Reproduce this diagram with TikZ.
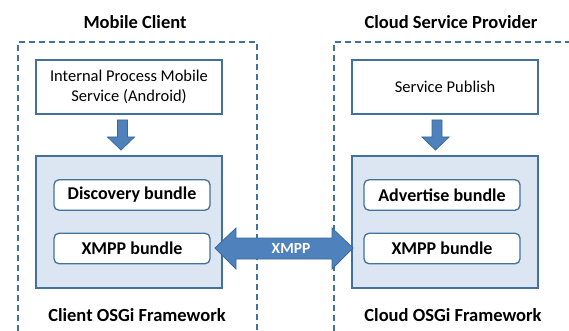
\documentclass[tikz,border=0pt]{standalone}
\usepackage{fontspec}
\setmainfont{Carlito}
\begin{document}
\begin{tikzpicture}[x=1pt,y=-1pt,
  every node/.style={inner sep=0pt, outer sep=0pt},
  region/.style={draw=frameblue, line width=1.4pt, dash pattern=on 6pt off 4pt},
  title/.style={font=\fontsize{18.5}{22}\selectfont\bfseries},
  svcbox/.style={draw=boxblue, line width=1.3pt, fill=white, minimum width=186pt, minimum height=54pt, align=center, font=\fontsize{16.5}{20}\selectfont},
  fwbox/.style={draw=boxblue, line width=1.3pt, fill=fwfill, minimum width=186pt, minimum height=132pt},
  bundle/.style={draw=boxblue, line width=1.3pt, fill=white, rounded corners=5pt, minimum width=156pt, minimum height=30.5pt, font=\fontsize{18}{22}\selectfont\bfseries},
  bigarrow/.style={fill=arrowfill, draw=arrowline, line width=0.8pt, line join=miter}
]
\definecolor{frameblue}{HTML}{41719C}
\definecolor{boxblue}{HTML}{41719C}
\definecolor{fwfill}{HTML}{DCE6F2}
\definecolor{arrowfill}{HTML}{4F81BD}
\definecolor{arrowline}{HTML}{3A6A9A}
\useasboundingbox (0,0) rectangle (569,331);

% dashed regions
\draw[region] (18,331) -- (18,42) -- (257,42) -- (257,331);
\draw[region] (334,331) -- (334,42) -- (572,42);

% titles
\node[title] (tl) at (135,22) {Mobile Client};
\node[title] (tr) at (451,22) {Cloud Service Provider};

% service boxes
\node[svcbox] (ipm) at (129,87) {Internal Process Mobile\\Service (Android)};
\node[svcbox] (sp) at (445,87) {Service Publish};

% frameworks
\node[fwbox] (fwl) at (129,222) {};
\node[fwbox] (fwr) at (445,222) {};

% bundles
\node[bundle] (disc) at (132,195) {Discovery bundle};
\node[bundle] (xl) at (132,248.5) {XMPP bundle};
\node[bundle] (adv) at (442,195) {Advertise bundle};
\node[bundle] (xr) at (442,248.5) {XMPP bundle};

% framework labels
\node[title] (cfl) at (137,315) {Client OSGi Framework};
\node[title] (cfr) at (453,315) {Cloud OSGi Framework};

% down arrows
\draw[bigarrow] (117.5,120) -- (127.5,120) -- (127.5,137) -- (134.5,137) -- (121,150) -- (107.5,137) -- (117.5,137) -- cycle;
\draw[bigarrow] (432,120) -- (442,120) -- (442,137) -- (449,137) -- (435.5,150) -- (422,137) -- (432,137) -- cycle;

% double arrow
\draw[bigarrow] (215,248) -- (236,228) -- (236,238) -- (332,238) -- (332,228) -- (353,248) -- (332,269) -- (332,259) -- (236,259) -- (236,269) -- cycle;
\node[font=\fontsize{15.5}{18}\selectfont\bfseries, text=white] (xmpp) at (291,248) {XMPP};
\end{tikzpicture}
\end{document}
